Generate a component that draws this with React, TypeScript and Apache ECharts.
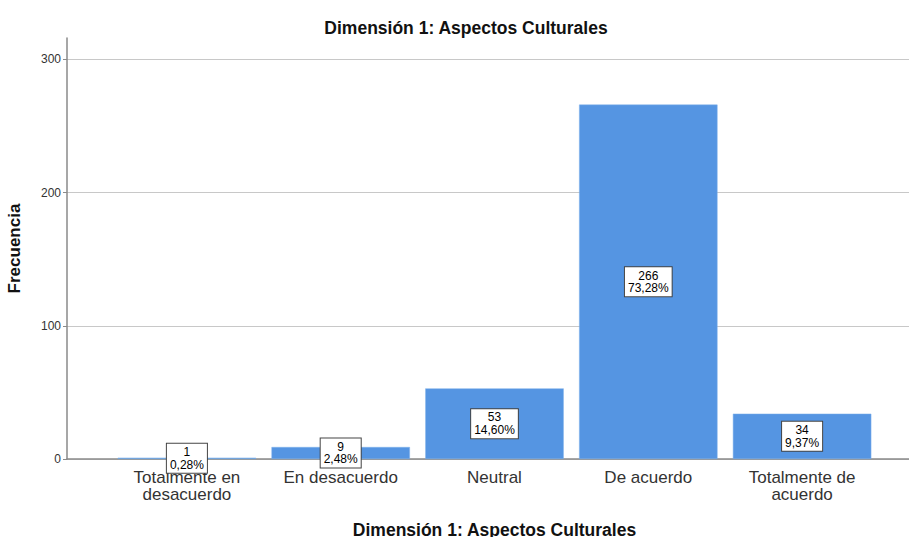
import React, { useEffect, useRef } from "react";
import * as echarts from "echarts";

const categories = ["Totalmente en\ndesacuerdo", "En desacuerdo", "Neutral", "De acuerdo", "Totalmente de\nacuerdo"];
const counts = [1, 9, 53, 266, 34];
const percents = ["0,28%", "2,48%", "14,60%", "73,28%", "9,37%"];
const yTicks = [0, 100, 200, 300];

const FONT = "'Liberation Sans', Arial, sans-serif";

export default function App() {
  const ref = useRef<HTMLDivElement>(null);
  useEffect(() => {
    if (!ref.current) return;
    const chart = echarts.init(ref.current, undefined, { renderer: "svg" });
    const yMax = 316;
    chart.setOption({
      animation: false,
      backgroundColor: "#ffffff",
      textStyle: { fontFamily: FONT },
      title: {
        text: "Dimensión 1: Aspectos Culturales",
        left: 461,
        textAlign: "center",
        top: 14,
        textStyle: { fontSize: 17.5, fontWeight: "bold", color: "#111", fontFamily: FONT },
      },
      grid: [
        { left: 67, right: 0, top: 38, bottom: 78, outerBoundsMode: "none" },
        { left: 110, right: 30, top: 38, bottom: 78, outerBoundsMode: "none" },
      ],
      xAxis: [
        {
          type: "value",
          gridIndex: 0,
          min: 0,
          max: 1,
          axisLine: { show: true, onZero: false, lineStyle: { color: "#8a8a8a", width: 1.5 } },
          axisTick: { show: false },
          axisLabel: { show: false },
          splitLine: { show: false },
        },
        {
          type: "category",
          gridIndex: 1,
          data: categories,
          axisLine: { show: false },
          axisTick: { show: false },
          axisLabel: {
            interval: 0,
            fontSize: 17,
            lineHeight: 17,
            color: "#333",
            margin: 10,
            fontFamily: FONT,
          },
          name: "Dimensión 1: Aspectos Culturales",
          nameLocation: "middle",
          nameGap: 62,
          nameTextStyle: { fontSize: 17.5, fontWeight: "bold", color: "#111", fontFamily: FONT },
        },
      ],
      yAxis: [
        {
          type: "value",
          gridIndex: 0,
          min: 0,
          max: yMax,
          interval: 100,
          axisLine: { show: true, lineStyle: { color: "#8a8a8a", width: 1.5 } },
          axisTick: { show: true, length: 4, lineStyle: { color: "#8a8a8a" } },
          axisLabel: {
            showMaxLabel: false,
            fontSize: 12,
            color: "#333",
            margin: 6,
            fontFamily: FONT,
            formatter: (v: number) => (yTicks.includes(v) ? String(v) : ""),
          },
          splitLine: {
            show: true,
            lineStyle: { color: ["#c8c8c8", "#c8c8c8", "#c8c8c8", "#c8c8c8", "rgba(0,0,0,0)"], width: 1.2 },
          },
          name: "Frecuencia",
          nameLocation: "middle",
          nameGap: 44,
          nameTextStyle: { fontSize: 17, fontWeight: "bold", color: "#111", fontFamily: FONT },
        },
        {
          type: "value",
          gridIndex: 1,
          min: 0,
          max: yMax,
          interval: 100,
          show: false,
          splitLine: { show: false },
        },
      ],
      series: [
        {
          type: "bar",
          xAxisIndex: 1,
          yAxisIndex: 1,
          data: counts,
          barCategoryGap: "10%",
          itemStyle: { color: "#5595e2", borderColor: "#7fb0ea", borderWidth: 0.5 },
          label: {
            show: true,
            position: "inside",
            formatter: (p: any) => `${p.value}\n${percents[p.dataIndex]}`,
            backgroundColor: "#ffffff",
            borderColor: "#444",
            borderWidth: 1,
            padding: [2, 3, 2, 3],
            fontSize: 12,
            lineHeight: 12.5,
            color: "#000",
            fontFamily: FONT,
          },
        },
      ],
    });
    return () => chart.dispose();
  }, []);
  return (
    <div
      ref={ref}
      style={{ position: "absolute", left: 0, top: 0, width: 909, height: 537 }}
    />
  );
}
